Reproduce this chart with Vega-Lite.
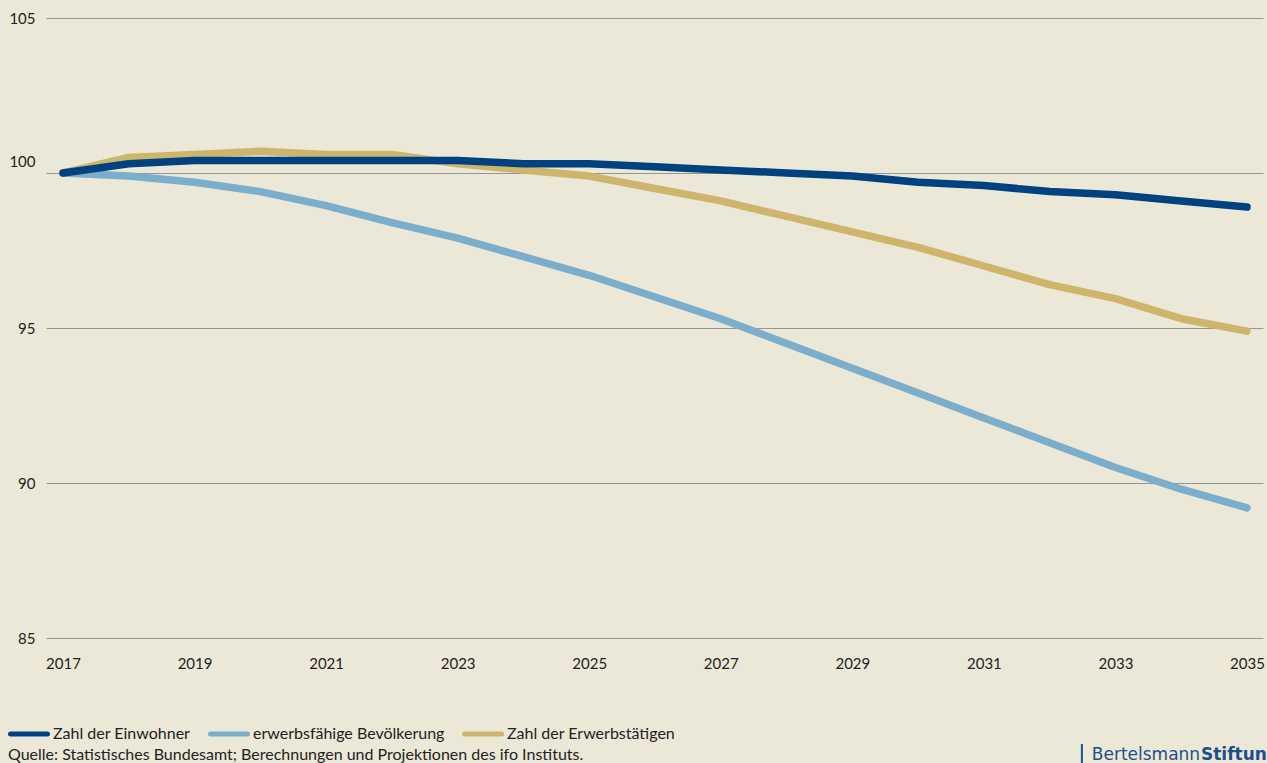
{
  "$schema": "https://vega.github.io/schema/vega-lite/v6.json",
  "width": 1217,
  "height": 620,
  "autosize": {"type": "none"},
  "padding": {"left": 46, "top": 18, "right": 4, "bottom": 125},
  "background": "#ebe8d7",
  "config": {
    "view": {"stroke": null},
    "font": "Lato",
    "axis": {"labelFont": "Lato", "labelFontSize": 15, "labelColor": "#222222", "labelFontWeight": 400},
    "legend": {"labelFont": "Lato", "labelFontSize": 16, "labelColor": "#222222", "labelFontWeight": 400}
  },
  "layer": [
    {
      "data": {
        "values": [
          {"Jahr": 2017, "Reihe": "erwerbsfähige Bevölkerung", "Wert": 100.0},
          {"Jahr": 2018, "Reihe": "erwerbsfähige Bevölkerung", "Wert": 99.9},
          {"Jahr": 2019, "Reihe": "erwerbsfähige Bevölkerung", "Wert": 99.7},
          {"Jahr": 2020, "Reihe": "erwerbsfähige Bevölkerung", "Wert": 99.4},
          {"Jahr": 2021, "Reihe": "erwerbsfähige Bevölkerung", "Wert": 98.95},
          {"Jahr": 2022, "Reihe": "erwerbsfähige Bevölkerung", "Wert": 98.4},
          {"Jahr": 2023, "Reihe": "erwerbsfähige Bevölkerung", "Wert": 97.9},
          {"Jahr": 2024, "Reihe": "erwerbsfähige Bevölkerung", "Wert": 97.3},
          {"Jahr": 2025, "Reihe": "erwerbsfähige Bevölkerung", "Wert": 96.7},
          {"Jahr": 2026, "Reihe": "erwerbsfähige Bevölkerung", "Wert": 96.0},
          {"Jahr": 2027, "Reihe": "erwerbsfähige Bevölkerung", "Wert": 95.3},
          {"Jahr": 2028, "Reihe": "erwerbsfähige Bevölkerung", "Wert": 94.5},
          {"Jahr": 2029, "Reihe": "erwerbsfähige Bevölkerung", "Wert": 93.7},
          {"Jahr": 2030, "Reihe": "erwerbsfähige Bevölkerung", "Wert": 92.9},
          {"Jahr": 2031, "Reihe": "erwerbsfähige Bevölkerung", "Wert": 92.1},
          {"Jahr": 2032, "Reihe": "erwerbsfähige Bevölkerung", "Wert": 91.3},
          {"Jahr": 2033, "Reihe": "erwerbsfähige Bevölkerung", "Wert": 90.5},
          {"Jahr": 2034, "Reihe": "erwerbsfähige Bevölkerung", "Wert": 89.8},
          {"Jahr": 2035, "Reihe": "erwerbsfähige Bevölkerung", "Wert": 89.2},
          {"Jahr": 2017, "Reihe": "Zahl der Erwerbstätigen", "Wert": 100.0},
          {"Jahr": 2018, "Reihe": "Zahl der Erwerbstätigen", "Wert": 100.5},
          {"Jahr": 2019, "Reihe": "Zahl der Erwerbstätigen", "Wert": 100.6},
          {"Jahr": 2020, "Reihe": "Zahl der Erwerbstätigen", "Wert": 100.7},
          {"Jahr": 2021, "Reihe": "Zahl der Erwerbstätigen", "Wert": 100.6},
          {"Jahr": 2022, "Reihe": "Zahl der Erwerbstätigen", "Wert": 100.6},
          {"Jahr": 2023, "Reihe": "Zahl der Erwerbstätigen", "Wert": 100.3},
          {"Jahr": 2024, "Reihe": "Zahl der Erwerbstätigen", "Wert": 100.1},
          {"Jahr": 2025, "Reihe": "Zahl der Erwerbstätigen", "Wert": 99.9},
          {"Jahr": 2026, "Reihe": "Zahl der Erwerbstätigen", "Wert": 99.5},
          {"Jahr": 2027, "Reihe": "Zahl der Erwerbstätigen", "Wert": 99.1},
          {"Jahr": 2028, "Reihe": "Zahl der Erwerbstätigen", "Wert": 98.6},
          {"Jahr": 2029, "Reihe": "Zahl der Erwerbstätigen", "Wert": 98.1},
          {"Jahr": 2030, "Reihe": "Zahl der Erwerbstätigen", "Wert": 97.6},
          {"Jahr": 2031, "Reihe": "Zahl der Erwerbstätigen", "Wert": 97.0},
          {"Jahr": 2032, "Reihe": "Zahl der Erwerbstätigen", "Wert": 96.4},
          {"Jahr": 2033, "Reihe": "Zahl der Erwerbstätigen", "Wert": 95.95},
          {"Jahr": 2034, "Reihe": "Zahl der Erwerbstätigen", "Wert": 95.3},
          {"Jahr": 2035, "Reihe": "Zahl der Erwerbstätigen", "Wert": 94.9},
          {"Jahr": 2017, "Reihe": "Zahl der Einwohner", "Wert": 100.0},
          {"Jahr": 2018, "Reihe": "Zahl der Einwohner", "Wert": 100.3},
          {"Jahr": 2019, "Reihe": "Zahl der Einwohner", "Wert": 100.4},
          {"Jahr": 2020, "Reihe": "Zahl der Einwohner", "Wert": 100.4},
          {"Jahr": 2021, "Reihe": "Zahl der Einwohner", "Wert": 100.4},
          {"Jahr": 2022, "Reihe": "Zahl der Einwohner", "Wert": 100.4},
          {"Jahr": 2023, "Reihe": "Zahl der Einwohner", "Wert": 100.4},
          {"Jahr": 2024, "Reihe": "Zahl der Einwohner", "Wert": 100.3},
          {"Jahr": 2025, "Reihe": "Zahl der Einwohner", "Wert": 100.3},
          {"Jahr": 2026, "Reihe": "Zahl der Einwohner", "Wert": 100.2},
          {"Jahr": 2027, "Reihe": "Zahl der Einwohner", "Wert": 100.1},
          {"Jahr": 2028, "Reihe": "Zahl der Einwohner", "Wert": 100.0},
          {"Jahr": 2029, "Reihe": "Zahl der Einwohner", "Wert": 99.9},
          {"Jahr": 2030, "Reihe": "Zahl der Einwohner", "Wert": 99.7},
          {"Jahr": 2031, "Reihe": "Zahl der Einwohner", "Wert": 99.6},
          {"Jahr": 2032, "Reihe": "Zahl der Einwohner", "Wert": 99.4},
          {"Jahr": 2033, "Reihe": "Zahl der Einwohner", "Wert": 99.3},
          {"Jahr": 2034, "Reihe": "Zahl der Einwohner", "Wert": 99.1},
          {"Jahr": 2035, "Reihe": "Zahl der Einwohner", "Wert": 98.9}
        ]
      },
      "mark": {"type": "line", "strokeWidth": 7.5, "strokeCap": "round", "strokeJoin": "round"},
      "encoding": {
        "x": {
          "field": "Jahr",
          "type": "quantitative",
          "scale": {"domain": [2016.7416, 2035.2432], "nice": false, "zero": false},
          "axis": {
            "title": null,
            "values": [2017, 2019, 2021, 2023, 2025, 2027, 2029, 2031, 2033, 2035],
            "format": "d",
            "grid": false,
            "domain": false,
            "ticks": false,
            "labelPadding": 18,
            "labelFlush": false,
            "labelOverlap": false
          }
        },
        "y": {
          "field": "Wert",
          "type": "quantitative",
          "scale": {"domain": [85, 105], "nice": false, "zero": false},
          "axis": {
            "title": null,
            "values": [85, 90, 95, 100, 105],
            "grid": true,
            "gridColor": "#969696",
            "gridWidth": 1.2,
            "gridOpacity": 1,
            "domain": false,
            "ticks": false,
            "labelPadding": 11,
            "labelOffset": {"condition": {"test": "datum.value === 100", "value": -12}, "value": 0}
          }
        },
        "color": {
          "field": "Reihe",
          "type": "nominal",
          "scale": {
            "domain": ["Zahl der Einwohner", "erwerbsfähige Bevölkerung", "Zahl der Erwerbstätigen"],
            "range": ["#00427f", "#7aaecb", "#cdb56c"]
          },
          "legend": {
            "title": null,
            "orient": "none",
            "direction": "horizontal",
            "legendX": -38,
            "legendY": 695,
            "symbolType": "stroke",
            "symbolSize": 1369,
            "symbolStrokeWidth": 5,
            "labelOffset": 3,
            "labelLimit": 0,
            "columnPadding": 9,
            "encode": {"symbols": {"update": {"strokeCap": {"value": "round"}}}}
          }
        }
      }
    },
    {
      "data": {"values": [{"Hinweis": "Quelle"}]},
      "mark": {"type": "text", "align": "left", "baseline": "middle", "font": "Lato", "fontSize": 16, "fontWeight": 400, "color": "#222222"},
      "encoding": {
        "x": {"datum": 2016.164, "type": "quantitative"},
        "y": {"datum": 81.23, "type": "quantitative"},
        "text": {"value": "Quelle: Statistisches Bundesamt; Berechnungen und Projektionen des ifo Instituts."}
      }
    },
    {
      "data": {"values": [{"Hinweis": "Logo"}]},
      "mark": {"type": "rule", "color": "#1b4f8e", "strokeWidth": 2},
      "encoding": {
        "x": {"datum": 2032.49, "type": "quantitative"},
        "y": {"datum": 81.58, "type": "quantitative"},
        "y2": {"datum": 80.6}
      }
    },
    {
      "data": {"values": [{"Hinweis": "Logo"}]},
      "mark": {"type": "text", "align": "left", "baseline": "middle", "font": "DejaVu Sans", "fontSize": 17, "fontWeight": 400, "color": "#1b4f8e"},
      "encoding": {
        "x": {"datum": 2032.64, "type": "quantitative"},
        "y": {"datum": 81.23, "type": "quantitative"},
        "text": {"value": "Bertelsmann"}
      }
    },
    {
      "data": {"values": [{"Hinweis": "Logo"}]},
      "mark": {"type": "text", "align": "left", "baseline": "middle", "font": "DejaVu Sans", "fontSize": 17, "fontWeight": "bold", "color": "#1b4f8e"},
      "encoding": {
        "x": {"datum": 2034.3, "type": "quantitative"},
        "y": {"datum": 81.23, "type": "quantitative"},
        "text": {"value": "Stiftung"}
      }
    }
  ]
}
